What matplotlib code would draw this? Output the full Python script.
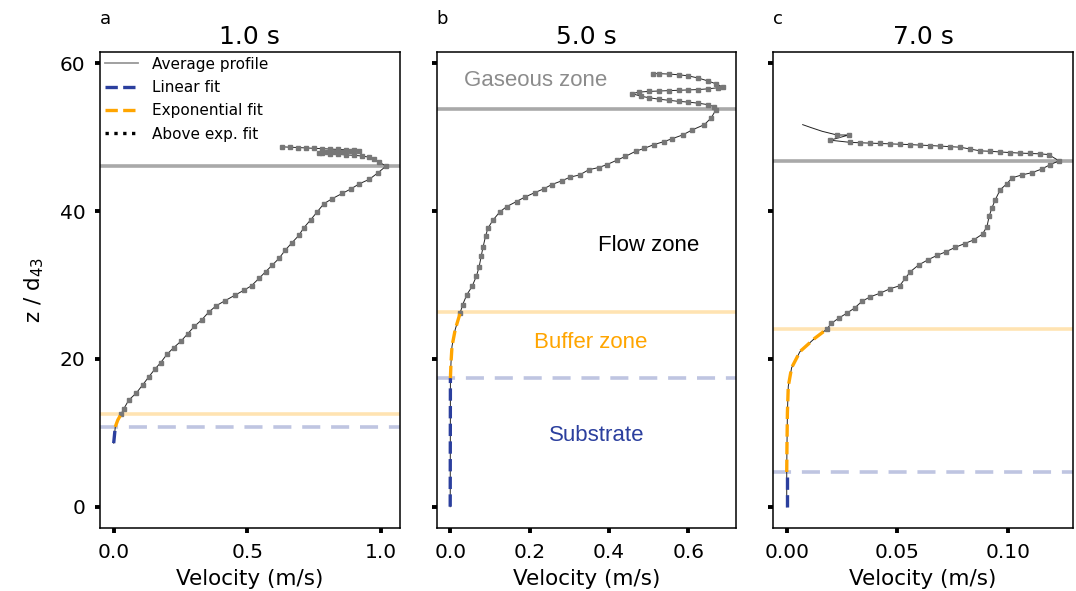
import matplotlib
matplotlib.use("Agg")
import matplotlib.pyplot as plt
from matplotlib.lines import Line2D
from matplotlib.ticker import FormatStrFormatter

# ---- data ----
titles = ["1.0 s", "5.0 s", "7.0 s"]
panel_letters = ["a", "b", "c"]

# panel a (t = 1.0 s)
a_lin_z = [8.6, 10.8]
a_lin_v = [0.0, 0.006]
a_exp_z = [10.8, 11.7, 12.5]
a_exp_v = [0.006, 0.015, 0.027]
a_above_z = [12.5, 13.2, 14.4, 15.4, 16.5, 17.6, 18.6, 19.5, 20.6, 21.5, 22.4, 23.4,
             24.4, 25.3, 26.3, 27.2, 27.9, 28.6, 29.3, 29.9, 30.9, 31.8, 32.7, 33.6,
             34.7, 35.7, 36.7, 37.7, 38.8, 39.9, 41.0, 41.7, 42.4, 43.0, 43.7, 44.3,
             45.2, 46.1, 46.6, 47.0, 47.3, 47.45, 47.55, 47.6, 47.7, 47.75, 47.85, 47.9,
             47.95, 48.0, 48.05, 48.1, 48.15, 48.25, 48.3, 48.35, 48.4, 48.45, 48.5,
             48.55, 48.6, 48.65, 48.7]
a_above_v = [0.027, 0.037, 0.056, 0.085, 0.109, 0.132, 0.154, 0.176, 0.199, 0.224, 0.252, 0.277,
             0.302, 0.330, 0.355, 0.384, 0.418, 0.453, 0.488, 0.516, 0.544, 0.569, 0.594, 0.619,
             0.642, 0.667, 0.693, 0.711, 0.737, 0.762, 0.787, 0.819, 0.856, 0.888, 0.920, 0.957,
             0.990, 1.020, 0.995, 0.975, 0.957, 0.930, 0.900, 0.870, 0.840, 0.810, 0.780, 0.770,
             0.800, 0.830, 0.860, 0.890, 0.920, 0.900, 0.870, 0.840, 0.810, 0.780, 0.750,
             0.720, 0.690, 0.660, 0.630]

# panel b (t = 5.0 s)
b_lin_z = [0.0, 17.4]
b_lin_v = [0.0, 0.0005]
b_exp_z = [17.4, 19.5, 21.7, 24.0, 26.2]
b_exp_v = [0.0005, 0.002, 0.0045, 0.0127, 0.025]
b_above_z = [26.2, 27.3, 28.7, 29.8, 31.2, 32.5, 33.9, 35.2, 36.6, 37.7, 38.8, 39.9,
             40.6, 41.3, 41.9, 42.5, 43.0, 43.6, 44.1, 44.6, 44.9, 45.6, 45.9, 46.3,
             46.9, 47.4, 48.1, 48.5, 49.0, 49.4, 49.8, 50.3, 51.0, 51.7, 52.6, 53.7,
             54.1, 54.4, 54.6, 54.75, 54.85, 55.0, 55.15, 55.35, 55.55, 55.9, 56.1, 56.2,
             56.25, 56.3, 56.35, 56.4, 56.45, 56.55, 56.7, 56.8, 57.2, 57.6, 58.0, 58.3,
             58.45, 58.55, 58.6, 58.6]
b_above_v = [0.025, 0.031, 0.042, 0.055, 0.066, 0.073, 0.078, 0.083, 0.089, 0.095, 0.108, 0.125,
             0.142, 0.167, 0.188, 0.213, 0.235, 0.256, 0.281, 0.302, 0.326, 0.349, 0.374, 0.395,
             0.420, 0.441, 0.467, 0.489, 0.513, 0.538, 0.559, 0.585, 0.610, 0.640, 0.657, 0.669,
             0.665, 0.650, 0.625, 0.600, 0.575, 0.550, 0.525, 0.500, 0.480, 0.458, 0.475, 0.500,
             0.525, 0.550, 0.575, 0.600, 0.625, 0.650, 0.675, 0.686, 0.670, 0.650, 0.625, 0.600,
             0.575, 0.550, 0.525, 0.511]

# panel c (t = 7.0 s)
c_lin_z = [0.0, 4.7]
c_lin_v = [0.0, 0.0]
c_exp_z = [4.7, 8.0, 12.7, 16.3, 18.8, 21.0, 22.8, 24.0]
c_exp_v = [0.0, 0.0001, 0.0003, 0.0007, 0.0022, 0.006, 0.0127, 0.018]
c_above_z = [24.0, 24.8, 25.5, 26.2, 26.9, 27.8, 28.4, 28.9, 29.5, 29.9, 30.9, 31.8,
             32.7, 33.4, 34.0, 34.5, 35.1, 35.6, 36.1, 36.9, 37.9, 39.3, 40.4, 41.5,
             42.9, 43.7, 44.5, 44.9, 45.2, 45.7, 46.3, 46.8, 47.65, 47.75, 47.8, 47.85,
             47.92, 48.0, 48.1, 48.15, 48.4, 48.65, 48.72, 48.8, 48.87, 48.93, 49.0, 49.05,
             49.1, 49.15, 49.2, 49.25, 49.3, 49.6, 50.3, 50.3]
c_above_v = [0.0181, 0.0201, 0.0234, 0.0272, 0.0307, 0.034, 0.0377, 0.0422, 0.0467, 0.051, 0.0535, 0.0558,
             0.0595, 0.0637, 0.0678, 0.0719, 0.0761, 0.0803, 0.0844, 0.0884, 0.0904, 0.0914, 0.0926, 0.0941,
             0.0964, 0.0994, 0.1017, 0.1062, 0.1107, 0.1152, 0.119, 0.123, 0.1182, 0.1144, 0.1099, 0.1054,
             0.1009, 0.0964, 0.0919, 0.0874, 0.0828, 0.0783, 0.0738, 0.0693, 0.0648, 0.0603, 0.0557, 0.0512,
             0.0467, 0.0422, 0.0377, 0.0332, 0.0287, 0.0196, 0.028, 0.0227]
c_tail_z = [50.3, 50.8, 51.3, 51.7]
c_tail_v = [0.0227, 0.016, 0.011, 0.0072]

# zone boundaries: gaseous, buffer (top of exp fit), substrate (top of linear fit)
gas_z = [46.1, 53.8, 46.8]
buf_z = [12.5, 26.3, 24.0]
sub_z = [10.8, 17.4, 4.7]

xticks = [[0.0, 0.5, 1.0], [0.0, 0.2, 0.4, 0.6], [0.0, 0.05, 0.10]]
xfmt = ["%.1f", "%.1f", "%.2f"]

lin_z = [a_lin_z, b_lin_z, c_lin_z]
lin_v = [a_lin_v, b_lin_v, c_lin_v]
exp_z = [a_exp_z, b_exp_z, c_exp_z]
exp_v = [a_exp_v, b_exp_v, c_exp_v]
above_z = [a_above_z, b_above_z, c_above_z]
above_v = [a_above_v, b_above_v, c_above_v]

BLUE = "#2b3f9e"
ORANGE = "#ffa500"
GREY = "#a9a9a9"

fig, axes = plt.subplots(1, 3, figsize=(10.76, 5.91), dpi=100, sharey=True)
fig.subplots_adjust(left=0.093, right=0.997, top=0.912, bottom=0.106, wspace=0.123)

for i, ax in enumerate(axes):
    # thin profile line through everything
    full_v = lin_v[i] + exp_v[i][1:] + above_v[i][1:]
    full_z = lin_z[i] + exp_z[i][1:] + above_z[i][1:]
    if i == 2:
        full_v = full_v + c_tail_v[1:]
        full_z = full_z + c_tail_z[1:]
    ax.plot(full_v, full_z, color="#222222", lw=0.7, zorder=3)
    ax.plot(above_v[i], above_z[i], ls="none", marker="s", ms=2.7,
            color="#777777", zorder=4)
    ax.plot(lin_v[i], lin_z[i], ls="--", color=BLUE, lw=2.4, zorder=5)
    ax.plot(exp_v[i], exp_z[i], ls="--", color=ORANGE, lw=2.4, zorder=5)

    ax.axhline(gas_z[i], color=GREY, lw=2.6, zorder=2)
    ax.axhline(buf_z[i], color=ORANGE, lw=2.6, alpha=0.3, zorder=2)
    ax.axhline(sub_z[i], color=BLUE, lw=2.6, alpha=0.3, ls=(0, (5, 3)), zorder=2)

    ax.set_title(titles[i], fontsize=18)
    ax.text(0.0, 1.07, panel_letters[i], transform=ax.transAxes, fontsize=13,
            ha="left", va="center")
    ax.set_xticks(xticks[i])
    ax.xaxis.set_major_formatter(FormatStrFormatter(xfmt[i]))
    ax.set_xlabel("Velocity (m/s)", fontsize=15.5, labelpad=5)
    ax.tick_params(direction="out", length=3.5, width=2.8, labelsize=14.5, pad=7)
    for s in ax.spines.values():
        s.set_linewidth(1.1)

axes[0].set_yticks([0, 20, 40, 60])
axes[0].set_ylabel(r"z / d$_{\mathregular{43}}$", fontsize=15.5, labelpad=10)

zone_font = ["Liberation Sans", "DejaVu Sans"]
axes[1].text(0.215, 57.7, "Gaseous zone", color="#8c8c8c", fontsize=16,
             family=zone_font, ha="center", va="center")
axes[1].text(0.50, 35.4, "Flow zone", color="black", fontsize=16,
             family=zone_font, ha="center", va="center")
axes[1].text(0.354, 22.2, "Buffer zone", color=ORANGE, fontsize=16,
             family=zone_font, ha="center", va="center")
axes[1].text(0.368, 9.6, "Substrate", color=BLUE, fontsize=16,
             family=zone_font, ha="center", va="center")

handles = [
    Line2D([], [], color="#999999", lw=1.3),
    Line2D([], [], color=BLUE, lw=2.4, ls="--"),
    Line2D([], [], color=ORANGE, lw=2.4, ls="--"),
    Line2D([], [], color="black", lw=2.4, ls=":"),
]
labels = ["Average profile", "Linear fit", "Exponential fit", "Above exp. fit"]
axes[0].legend(handles, labels, loc="upper left", frameon=False, fontsize=11,
               handlelength=2.2, handletextpad=0.9, labelspacing=0.55,
               borderaxespad=0.2, borderpad=0.1)

fig.savefig("out.png", dpi=100)
